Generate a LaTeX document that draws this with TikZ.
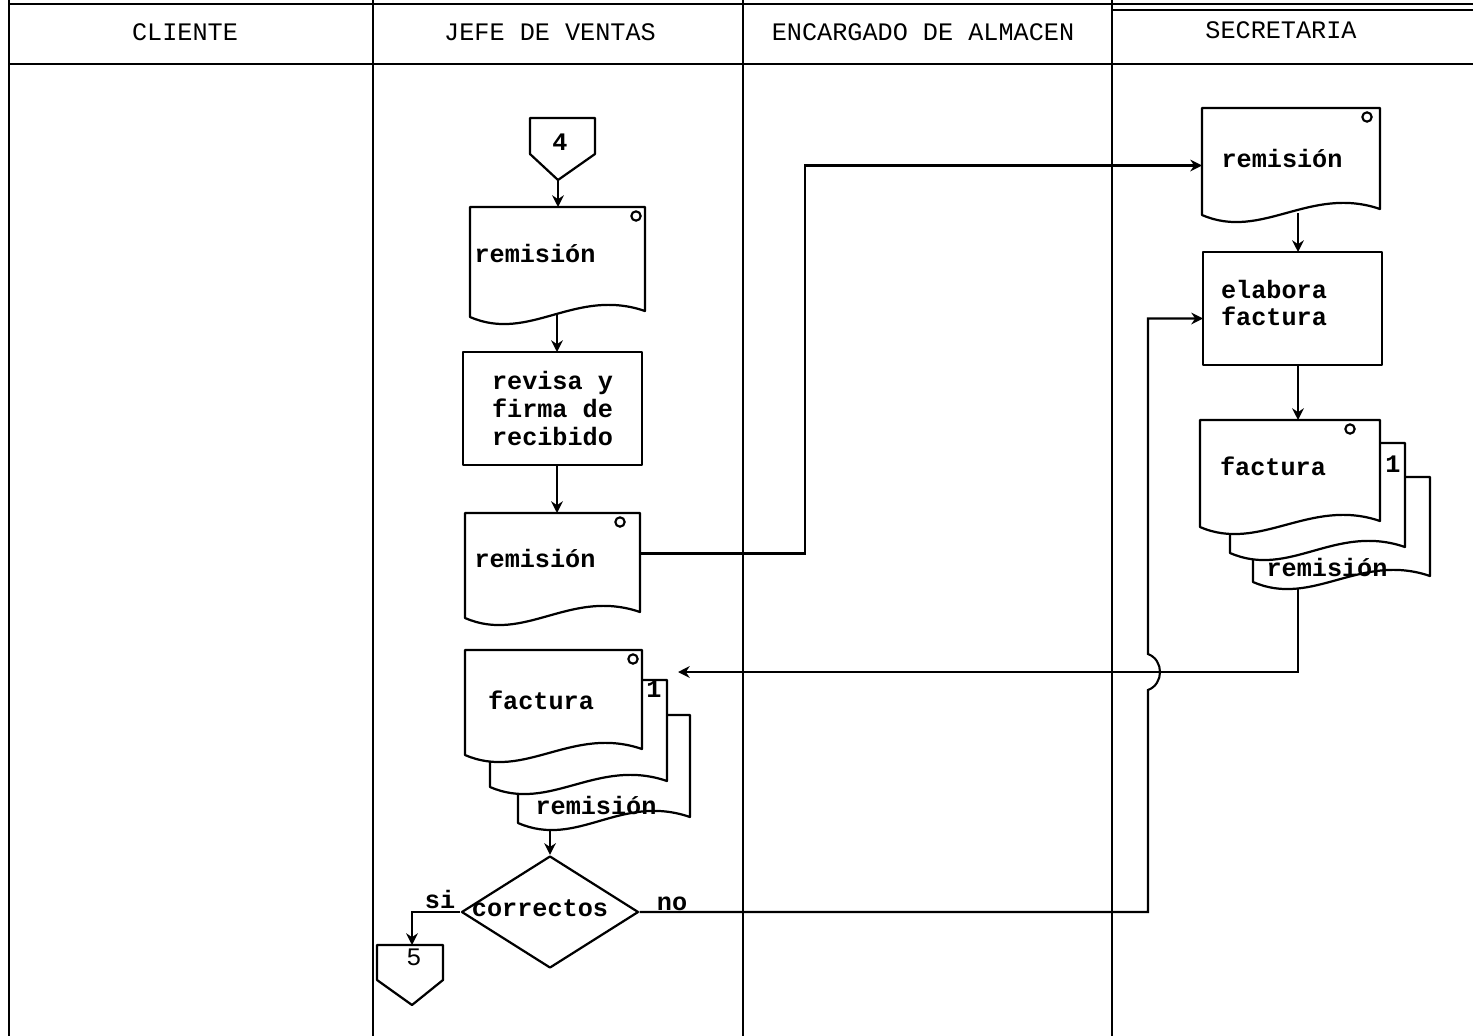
\documentclass[tikz,border=0pt]{standalone}
\usepackage{fontspec}
\setmonofont{Liberation Mono}
\usetikzlibrary{arrows.meta,calc,shapes.geometric}
\tikzset{
  lane/.style={line width=1.8pt},
  ln/.style={line width=1.8pt},
  shp/.style={line width=1.9pt, fill=white, line join=round},
  arr/.style={line width=1.8pt, -{Stealth[length=10pt,width=10pt]}},
  docnode/.style={inner sep=0pt, outer sep=0pt, anchor=north west},
  ocirc/.style={line width=1.8pt},
  txt/.style={font=\ttfamily\bfseries\fontsize{21.5}{23.8}\selectfont, inner sep=0pt, anchor=base},
  hdr/.style={font=\ttfamily\fontsize{21.5}{24}\selectfont, inner sep=0pt, anchor=base},
  mtxt/.style={font=\ttfamily\bfseries\fontsize{21.5}{23.6}\selectfont, inner sep=0pt, align=left},
}
% name, x, y (top left), w, h, circle offset from right (empty = none)
\newcommand\mkdoc[6]{%
  \node[docnode, minimum width=#4*0.03cm, minimum height=#5*0.03cm] (#1) at (#2,#3) {};
  \draw[shp] ($(#1.south east)+(0,-6)$) -- (#1.north east) -- (#1.north west) -- (#1.south west)
     .. controls ($(#1.south west)+(60,26)$) and ($(#1.south east)+(-70,-30)$) .. ($(#1.south east)+(0,-6)$) -- cycle;
  \ifx&#6&\else\draw[ocirc] ($(#1.north east)+(-#6,9)$) circle[radius=0.14cm];\fi
}
\begin{document}
\begin{tikzpicture}[x=0.03cm,y=-0.03cm]
\useasboundingbox (0,0) rectangle (1473,1036);
\fill[white] (0,0) rectangle (1473,1036);

% swimlane frame
\draw[lane] (9,0) -- (9,1036);
\draw[lane] (373,0) -- (373,1036);
\draw[lane] (743,0) -- (743,1036);
\draw[lane] (1112,0) -- (1112,1036);
\draw[lane] (9,4) -- (1473,4);
\draw[line width=0.9pt] (1112,10) -- (1473,10);
\draw[lane, line width=2.4pt] (9,64) -- (1473,64);

% headers
\node[hdr] (h1) at (185,40) {CLIENTE};
\node[hdr] (h2) at (550,40) {JEFE DE VENTAS};
\node[hdr] (h3) at (923,40) {ENCARGADO DE ALMACEN};
\node[hdr] (h4) at (1281,38) {SECRETARIA};

% axes
\coordinate (jaxis) at (557,0);
\coordinate (saxis) at (1298,0);

% off-page connector 4
\draw[shp] (530,118) -- (595,118) -- (595,154) -- (558,180) -- (530,154) -- cycle;
\node[txt] (c4) at (560,150) {4};
\coordinate (c4tip) at (558,180);

% Jefe de ventas documents
\mkdoc{jd1}{470}{207}{175}{110}{9}
\node[docnode, draw, shp, minimum width=179*0.03cm, minimum height=113*0.03cm, mtxt] (jp) at (463,352) {revisa y\\firma de\\recibido};
\mkdoc{jd2}{465}{513}{175}{105}{20}
\mkdoc{j3}{518}{715}{172}{108}{}
\mkdoc{j2}{490}{680}{177}{107}{}
\mkdoc{j1}{465}{650}{177}{105}{9}

% decision
\node[diamond, draw, shp, minimum width=177*0.03cm, minimum height=112*0.03cm, inner sep=0pt] (dd) at (550,912) {};

% off-page connector 5
\draw[shp] (377,945) -- (443,945) -- (443,980) -- (412,1005) -- (377,980) -- cycle;
\node[hdr] (c5) at (414,965) {5};
\coordinate (c5t) at (412,945);

% Secretaria
\mkdoc{sd1}{1202}{108}{178}{107}{13}
\node[docnode, draw, shp, minimum width=179*0.03cm, minimum height=113*0.03cm] (sp) at (1203,252) {};
\mkdoc{ss3}{1253}{477}{177}{105}{}
\mkdoc{ss2}{1230}{443}{175}{110}{}
\mkdoc{ss1}{1200}{420}{180}{107}{30}

% texts
\node[txt] (t1) at (535,262) {remisión};
\node[txt] (t2) at (535,567) {remisión};
\node[txt] (t3) at (541,709) {factura};
\node[txt] (t4) at (596,814) {remisión};
\node[txt] (t5) at (654,697) {1};
\node[txt] (t6) at (540,916) {correctos};
\node[txt] (t7) at (440,908) {si};
\node[txt] (t8) at (672,910) {no};
\node[txt] (t9) at (1282,167) {remisión};
\node[mtxt] (t10) at (1274,303) {elabora\\factura};
\node[txt] (t11) at (1273,475) {factura};
\node[txt] (t12) at (1393,472) {1};
\node[txt] (t13) at (1327,576) {remisión};

% connectors
\draw[arr] (c4tip) -- (c4tip |- jd1.north);
\draw[arr] ($(jaxis |- jd1.south)+(0,-2)$) -- (jaxis |- jp.north);
\draw[arr] (jaxis |- jp.south) -- (jaxis |- jd2.north);
\draw[arr] ($(jd2.east)+(0,-12)$) -- ++(165,0) |- ($(sd1.west)+(0,4)$);
\draw[arr] ($(dd.north |- j3.south)+(0,7)$) -- (dd.north);
\draw[arr] (dd.west) -| (c5t);
\draw[arr] ($(saxis |- sd1.south)+(0,-2)$) -- (saxis |- sp.north);
\draw[arr] (saxis |- sp.south) -- (saxis |- ss1.north);
\coordinate (ret) at (678,672);
\draw[arr] ($(saxis |- ss3.south)+(0,7)$) |- (ret);
\coordinate (jx) at (1148,672);
\draw[arr] (dd.east) -- (dd.east -| jx) -- ($(jx)+(0,18)$)
   .. controls ($(jx)+(16,12)$) and ($(jx)+(16,-12)$) .. ($(jx)+(0,-18)$)
   |- ($(sp.west)+(0,10)$);
\end{tikzpicture}
\end{document}
